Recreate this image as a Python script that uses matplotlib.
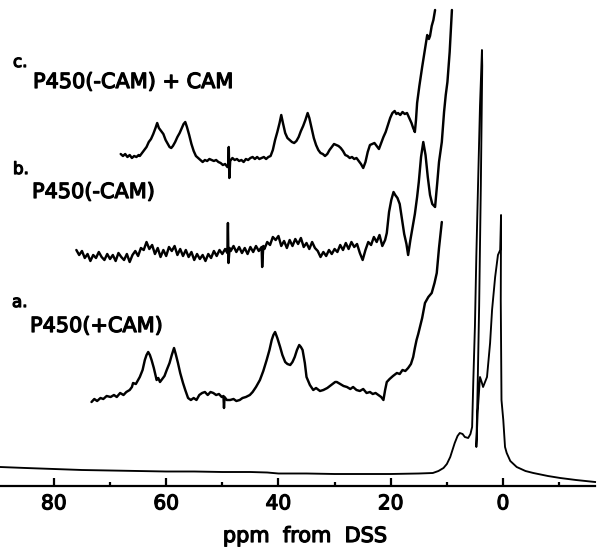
import matplotlib
matplotlib.use("Agg")
import matplotlib.pyplot as plt
import matplotlib.patheffects as pe
from matplotlib.ticker import FixedLocator, FixedFormatter

# ---------------- data (ppm from DSS, intensity in arbitrary units) ----------------
# a. P450(+CAM)
ppm_a = [73.3, 72.8, 72.3, 71.7, 71.2, 70.6, 69.9, 69.3, 68.8, 68.2, 67.6, 67.1, 66.5, 66.1,
         65.9, 65.4, 64.7, 64.2, 63.8, 63.5, 63.2, 62.9, 62.6, 62.2, 61.7, 61.4, 61.1, 60.7,
         60.3, 59.9, 59.4, 59.0, 58.6, 58.3, 57.9, 57.5, 57.0, 56.6, 56.1, 55.6, 55.1, 54.6,
         54.1, 53.6, 53.1, 52.6, 52.1, 51.6, 51.1, 50.6, 50.1, 49.8, 49.7, 49.6, 49.2, 48.6,
         48.0, 47.5, 46.9, 46.4, 45.8, 45.1, 44.6, 44.0, 43.3, 42.7, 42.1, 41.6, 41.2, 40.9,
         40.6, 40.2, 39.7, 39.3, 38.8, 38.4, 37.9, 37.5, 37.1, 36.7, 36.3, 36.0, 35.7, 35.3,
         35.0, 34.4, 33.8, 33.3, 32.6, 32.0, 31.3, 30.6, 29.9, 29.6, 29.0, 28.4, 27.8, 27.2,
         26.7, 26.1, 25.5, 24.9, 24.3, 23.7, 23.2, 22.7, 22.2, 21.7, 21.3, 21.0, 20.7, 20.2,
         19.6, 18.9, 18.4, 17.9, 17.4, 16.9, 16.4, 16.0, 15.7, 15.4, 15.1, 14.8, 14.4, 13.9,
         13.3, 12.7, 12.2, 11.8, 11.4, 10.9]
int_a = [-4, -1, -3, 0, -1, 2, 1, 3, 1, 5, 3, 6, 8, 11,
         15, 14, 21, 28, 38, 43, 46, 43, 38, 30, 18, 20, 16, 19,
         22, 28, 35, 43, 50, 44, 35, 25, 15, 8, 0, -2, 0, -2,
         3, 5, 6, 3, 6, 5, 3, 4, 1, 2, -10, 1, -2, -2,
         -1, -3, -2, 0, 1, 3, 6, 11, 18, 27, 38, 48, 58, 63,
         66, 60, 51, 43, 36, 34, 33, 36, 41, 48, 53, 51, 48, 35,
         21, 13, 8, 10, 7, 8, 10, 13, 16, 16, 14, 12, 11, 9,
         11, 8, 7, 9, 5, 6, 4, 5, 3, 1, -2, 8, 16, 19,
         22, 25, 24, 28, 27, 30, 34, 41, 50, 58, 64, 71, 80, 95,
         101, 105, 115, 125, 150, 176]

# b. P450(-CAM)
ppm_b = [76.0, 75.5, 75.0, 74.5, 74.0, 73.5, 73.0, 72.5, 72.0, 71.5, 71.0, 70.5, 70.0, 69.5,
         69.0, 68.5, 68.0, 67.5, 67.0, 66.5, 66.0, 65.5, 65.0, 64.5, 64.0, 63.5, 63.0, 62.5,
         62.0, 61.5, 61.0, 60.5, 60.0, 59.5, 59.0, 58.5, 58.0, 57.5, 57.0, 56.5, 56.0, 55.5,
         55.0, 54.5, 54.0, 53.5, 53.0, 52.5, 52.0, 51.5, 51.0, 50.5, 50.0, 49.5, 49.1, 49.0,
         48.9, 48.7, 48.5, 48.0, 47.5, 47.0, 46.5, 46.0, 45.5, 45.0, 44.5, 44.0, 43.5, 43.0,
         42.9, 42.7, 42.5, 42.0, 41.5, 41.0, 40.5, 40.0, 39.5, 39.0, 38.5, 38.0, 37.5, 37.0,
         36.5, 36.0, 35.5, 35.0, 34.5, 34.0, 33.5, 33.0, 32.5, 32.0, 31.5, 31.0, 30.5, 30.0,
         29.5, 29.0, 28.5, 28.0, 27.5, 27.0, 26.5, 26.0, 25.5, 25.0, 24.5, 24.0, 23.5, 23.0,
         22.5, 22.0, 21.5, 21.0, 20.7, 20.3, 19.9, 19.5, 19.2, 18.8, 18.4, 18.0, 17.6, 17.2,
         16.9, 16.5, 16.1, 15.7, 15.3, 15.0, 14.6, 14.2, 13.8, 13.4, 13.0, 12.6, 12.1, 11.7,
         11.4, 10.9, 10.5, 10.2, 9.9, 9.5, 9.1]
int_b = [2, -3, 1, -6, -2, -9, -3, -6, 0, -5, -8, -2, -7, -3,
         -9, -1, -5, -8, -2, -10, -3, 1, -4, 4, 2, 10, 3, 7,
         -2, 4, -5, 2, -4, 5, 1, 6, -3, 3, -4, 2, -5, 0,
         -8, -2, -7, -3, -9, -2, -6, 1, -4, 2, -2, 3, -1, 29,
         -11, 4, 1, 6, 0, 5, -1, 4, -2, 5, 0, 6, 1, 5,
         -15, 6, 3, 10, 7, 15, 12, 16, 6, 11, 4, 12, 6, 13,
         8, 14, 5, 9, 3, 10, 4, 1, -5, 0, -4, 2, -2, 3,
         0, 7, 2, 9, 3, 10, 5, 8, -1, -8, 2, 10, 7, 15,
         10, 17, 6, 12, 19, 40, 52, 60, 57, 54, 48, 33, 18, 8,
         -3, 12, 25, 38, 55, 70, 95, 110, 97, 75, 57, 48, 45, 70,
         90, 110, 140, 157, 170, 200, 242]

# c. P450(-CAM) + CAM
ppm_c = [68.1, 67.7, 67.3, 66.9, 66.5, 66.1, 65.7, 65.3, 64.9, 64.7, 64.3, 63.9, 63.5, 63.1,
         62.7, 62.3, 61.9, 61.6, 61.3, 60.9, 60.5, 60.1, 59.7, 59.4, 59.1, 58.8, 58.4, 58.0,
         57.6, 57.2, 56.9, 56.6, 56.3, 55.9, 55.5, 55.1, 54.7, 54.3, 53.9, 53.5, 53.1, 52.7,
         52.3, 51.9, 51.5, 51.1, 50.7, 50.3, 49.9, 49.5, 49.1, 48.95, 48.85, 48.75, 48.6, 48.2,
         47.8, 47.4, 47.0, 46.6, 46.2, 45.8, 45.4, 45.0, 44.6, 44.2, 43.8, 43.4, 43.0, 42.6,
         42.2, 41.8, 41.4, 41.0, 40.6, 40.2, 39.8, 39.5, 39.2, 38.8, 38.4, 38.0, 37.6, 37.2,
         36.8, 36.4, 36.0, 35.6, 35.2, 34.8, 34.5, 34.1, 33.7, 33.3, 32.9, 32.5, 32.1, 31.7,
         31.3, 30.9, 30.5, 30.1, 29.7, 29.3, 28.9, 28.5, 28.1, 27.7, 27.3, 26.9, 26.5, 26.1,
         25.7, 25.3, 24.9, 24.5, 24.1, 23.7, 23.3, 22.9, 22.5, 22.1, 21.7, 21.3, 20.9, 20.5,
         20.1, 19.7, 19.3, 19.0, 18.7, 18.3, 17.9, 17.5, 17.1, 16.7, 16.3, 16.0, 15.7, 15.5,
         15.3, 14.9, 14.4, 14.0, 13.5, 13.2, 13.0, 12.7, 12.4, 12.1]
int_c = [4, 2, 4, 1, 3, 0, 2, 1, 3, 2, 5, 8, 11, 16,
         19, 24, 30, 35, 30, 27, 24, 18, 14, 11, 10, 12, 16, 21,
         25, 30, 34, 36, 31, 23, 14, 7, 2, 0, -2, -4, -2, -3,
         -1, -2, -3, -2, -4, -5, -7, -6, -9, -9, 11, -20, -3, 0,
         -2, -1, -3, -2, -4, -1, -2, 0, 1, -1, 1, -1, 0, 1,
         -1, 1, 2, 8, 18, 26, 35, 43, 35, 25, 20, 18, 16, 15,
         17, 21, 27, 32, 38, 45, 40, 30, 20, 13, 8, 5, 4, 2,
         4, 8, 11, 14, 13, 12, 10, 7, 3, 2, 0, 1, -1, 0,
         -3, -6, -10, -4, 6, 13, 14, 15, 12, 9, 15, 21, 26, 33,
         40, 45, 47, 44, 45, 43, 46, 44, 45, 40, 35, 30, 26, 38,
         55, 72, 91, 105, 123, 119, 122, 132, 138, 148]

# full spectrum (lower gain)
ppm_full = [89.6, 85.0, 80.0, 75.0, 70.0, 65.0, 60.0, 55.0, 50.0, 45.0, 42.0, 40.0, 35.0,
            30.0, 25.0, 20.0, 15.0, 12.5, 11.5, 10.6, 10.0, 9.4, 8.6, 8.1, 7.7, 7.2, 6.8,
            6.2, 5.8, 5.5, 5.3, 5.0, 4.75, 4.45, 4.1, 3.75, 3.7, 3.95, 4.25, 4.55, 4.75,
            4.5, 4.1, 3.8, 3.55, 2.85, 2.3, 1.95, 1.4, 0.9, 0.5, 0.35, 0.4, 0.27, -0.05,
            -0.36, -0.66, -1.3, -2.44, -4.0, -5.4, -8.0, -10.2, -13.0, -16.4]
int_full = [19, 18, 17, 16, 15.5, 15, 14.5, 14.5, 14, 14, 13.5, 12.5, 12.5,
            12, 12, 12, 12.5, 13, 15, 18, 22, 29, 43, 50, 53, 52, 49,
            48, 52, 59, 103, 160, 230, 300, 380, 436, 420, 300, 180, 90, 39,
            75, 109, 104, 99, 109, 143, 176, 209, 231, 236, 271, 186, 86, 66,
            39, 33, 25, 19, 15, 13, 10, 8, 6, 4]

major_ticks = [80, 60, 40, 20, 0]
major_labels = ["80", "60", "40", "20", "0"]
minor_ticks = [70, 50, 30, 10, -10]

# vertical offsets of the stacked traces
offset_a, offset_b, offset_c, offset_full = 88, 234, 328, 0

# ---------------- figure ----------------
W, H = 599, 547
fig = plt.figure(figsize=(W / 100, H / 100), dpi=100)
fig.patch.set_facecolor("white")
ax = fig.add_axes([0, 61 / H, 1, 486 / H])
ax.set_xlim(89.6, -17.1)
ax.set_ylim(0, 486)
ax.patch.set_alpha(0)

for s in ("left", "right", "top"):
    ax.spines[s].set_visible(False)
ax.spines["bottom"].set_linewidth(1.6)
ax.spines["bottom"].set_bounds(89.6, -16.4)
ax.set_yticks([])

ax.xaxis.set_major_locator(FixedLocator(major_ticks))
ax.xaxis.set_major_formatter(FixedFormatter(major_labels))
ax.xaxis.set_minor_locator(FixedLocator(minor_ticks))
ax.tick_params(axis="x", which="major", direction="in", length=5.5, width=1.6,
               pad=6, labelsize=14.5)
ax.tick_params(axis="x", which="minor", direction="in", length=2.8, width=1.6)

bold = [pe.withStroke(linewidth=0.9, foreground="black")]
for lab in ax.get_xticklabels():
    lab.set_path_effects(bold)

trace_kw = dict(color="black", lw=1.75, solid_joinstyle="round", solid_capstyle="round")
ax.plot(ppm_full, [v + offset_full for v in int_full], color="black", lw=1.35,
        solid_joinstyle="round")
ax.plot(ppm_a, [v + offset_a for v in int_a], **trace_kw)
ax.plot(ppm_b, [v + offset_b for v in int_b], **trace_kw)
ax.plot(ppm_c, [v + offset_c for v in int_c], **trace_kw)


def label(x, y, s, size):
    t = fig.text(x / W, 1 - y / H, s, fontsize=size, ha="left", va="baseline",
                 family="DejaVu Sans")
    t.set_path_effects(bold)


label(13, 67, "c.", 12)
label(33, 88, "P450(-CAM) + CAM", 15)
label(13, 174, "b.", 12)
label(32, 198, "P450(-CAM)", 15)
label(12, 307, "a.", 12)
label(30, 332, "P450(+CAM)", 15)

xl = fig.text(305 / W, 1 - 542 / H, "ppm  from  DSS", fontsize=15, ha="center",
              va="baseline", family="DejaVu Sans")
xl.set_path_effects(bold)

fig.savefig("out.png", dpi=100, facecolor="white")
